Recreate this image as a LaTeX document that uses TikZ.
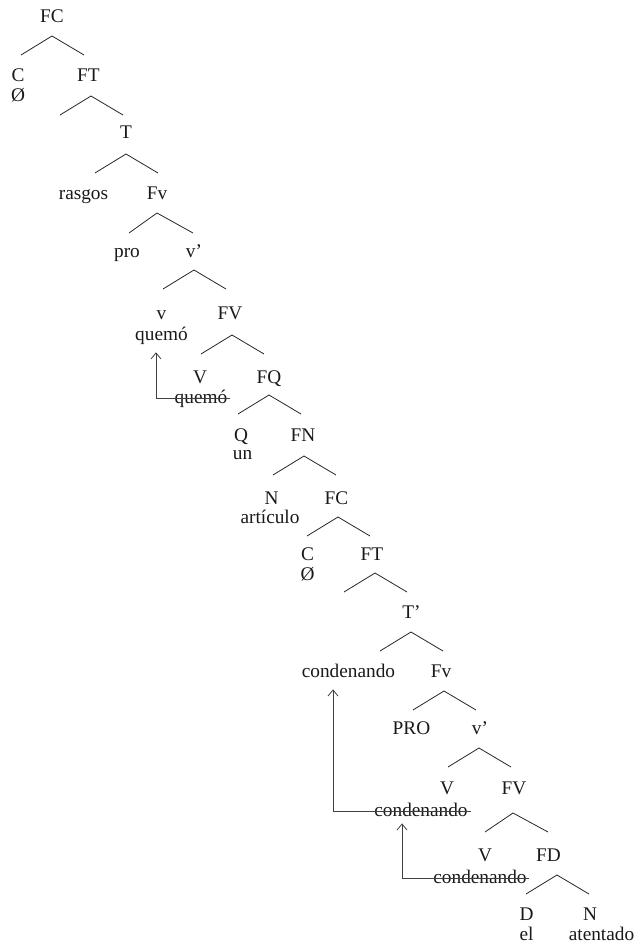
\documentclass[tikz,border=0pt]{standalone}
\usepackage{fontspec}
\setmainfont{Liberation Serif}
\usetikzlibrary{arrows.meta}
\begin{document}
\begin{tikzpicture}[x=1pt,y=-1pt,
  lab/.style={anchor=base,inner sep=0pt,font=\fontsize{19.3}{23}\selectfont,text=black!90},
  branch/.style={draw=black!85,line width=0.8pt},
  move/.style={draw=black!75,line width=0.8pt,-{Straight Barb[length=6pt,width=10pt]}}]
\useasboundingbox (0,0) rectangle (635,947);

% ---- labels (positions are baselines) ----
\node[lab] (fc0) at (52,23) {FC};
\node[lab] (c1) at (18,82) {C};
\node[lab] (c1w) at (18,102) {Ø};
\node[lab] (ft1) at (88.5,82) {FT};
\node[lab] (t1) at (126,139) {T};
\node[lab] (rasgos) at (83.5,199) {rasgos};
\node[lab] (fv1) at (157,199) {Fv};
\node[lab] (pro) at (127,257) {pro};
\node[lab] (vb1) at (194,257) {v’};
\node[lab] (v1) at (161.5,319) {v};
\node[lab] (quemo) at (161.5,340) {quemó};
\node[lab] (FV1) at (230,319) {FV};
\node[lab] (V1) at (200,383) {V};
\node[lab] (quemos) at (201,403) {quemó};
\node[lab] (fq) at (269,383) {FQ};
\node[lab] (q) at (241,441) {Q};
\node[lab] (un) at (242.5,459) {un};
\node[lab] (fn) at (303,441) {FN};
\node[lab] (n1) at (271.5,504) {N};
\node[lab] (art) at (270,523) {artículo};
\node[lab] (fc2) at (336.5,504) {FC};
\node[lab] (c2) at (307.5,560) {C};
\node[lab] (c2w) at (307.5,580) {Ø};
\node[lab] (ft2) at (372,560) {FT};
\node[lab] (tb) at (411.5,618) {T’};
\node[lab] (cond) at (348.5,677) {condenando};
\node[lab] (fv2) at (441,677) {Fv};
\node[lab] (PRO) at (411.5,734) {PRO};
\node[lab] (vb2) at (480,734) {v’};
\node[lab] (V2) at (447,794) {V};
\node[lab] (FV2) at (514,794) {FV};
\node[lab] (conds1) at (421,816) {condenando};
\node[lab] (V3) at (485,861) {V};
\node[lab] (fd) at (548.5,861) {FD};
\node[lab] (conds2) at (480,883) {condenando};
\node[lab] (d) at (526.5,920) {D};
\node[lab] (el) at (526.5,940) {el};
\node[lab] (n2) at (590,920) {N};
\node[lab] (atentado) at (601.5,940) {atentado};

% ---- branch apexes ----
\coordinate (b1) at (52,36);
\coordinate (b2) at (91,96);
\coordinate (b3) at (126,154);
\coordinate (b4) at (157,213);
\coordinate (b5) at (194,270);
\coordinate (b6) at (232,335);
\coordinate (b7) at (269,395);
\coordinate (b8) at (304,456);
\coordinate (b9) at (338,517);
\coordinate (b10) at (375,573);
\coordinate (b11) at (411,632);
\coordinate (b12) at (444,691);
\coordinate (b13) at (479,748);
\coordinate (b14) at (513,813);
\coordinate (b15) at (557,875);

\foreach \b in {b1,b2,b3,b5,b6,b7,b8,b9,b10,b11,b12,b13,b15}
  \draw[branch] ([shift={(-31,19)}]\b) -- (\b) -- ([shift={(32,19)}]\b);
\draw[branch] ([shift={(-28,20)}]b4) -- (b4) -- ([shift={(36,20)}]b4);
\draw[branch] ([shift={(-28,19)}]b14) -- (b14) -- ([shift={(35,19)}]b14);

% ---- movement arrows (the horizontal part strikes through the copy) ----
\draw[move] ([xshift=3pt,yshift=5pt]quemos.base east) -| ([xshift=-5.5pt,yshift=-8pt]quemo.south);
\draw[move] ([xshift=3pt,yshift=5pt]conds1.base east) -| ([xshift=-15.5pt,yshift=-12pt]cond.south);
\draw[move] ([xshift=2pt,yshift=5pt]conds2.base east) -| ([xshift=-19pt,yshift=-7pt]conds1.south);
\end{tikzpicture}
\end{document}
